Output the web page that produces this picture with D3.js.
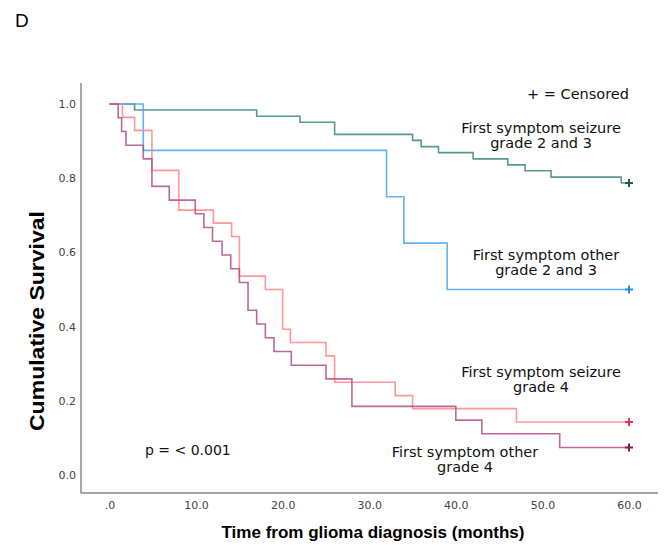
<!DOCTYPE html>
<html lang="en">
  <head>
    <meta charset="UTF-8" />
    <title>Kaplan-Meier: first symptom and grade</title>
    <script src="https://d3js.org/d3.v7.min.js"></script>
    <style>
      body { margin: 0; background: #fff; }
      text { font-family: "DejaVu Sans", sans-serif; }
    </style>
  </head>
  <body>
    <svg width="666" height="545"></svg>
    <script>
      // Step times (months) and cumulative survival
      const seizureLowTimes = [0, 2.9, 17, 22, 26, 35, 36, 38, 42, 46, 48, 51, 59.1, 60];
      const seizureLowSurv = [1, 0.984, 0.967, 0.951, 0.918, 0.902, 0.885, 0.869, 0.852, 0.836, 0.82, 0.803, 0.787, 0.787];

      const otherLowTimes = [0, 3.9, 32, 34, 39, 60];
      const otherLowSurv = [1, 0.875, 0.75, 0.625, 0.5, 0.5];

      const seizureHighTimes = [0, 1.5, 2.9, 4.9, 8, 12, 14.1, 15, 18, 20, 20.9, 25, 26, 33, 35, 47, 60];
      const seizureHighSurv = [1, 0.964, 0.929, 0.821, 0.714, 0.679, 0.643, 0.536, 0.5, 0.393, 0.357, 0.321, 0.25, 0.214, 0.179, 0.143, 0.143];

      const otherHighTimes = [0, 1, 1.4, 1.9, 3.9, 4.9, 6.9, 9.9, 10.9, 11.9, 13, 14, 15, 16, 17, 18, 19, 21, 25, 28, 40, 43, 52, 60];
      const otherHighSurv = [1, 0.963, 0.926, 0.889, 0.852, 0.778, 0.741, 0.704, 0.667, 0.63, 0.593, 0.556, 0.519, 0.444, 0.407, 0.37, 0.333, 0.296, 0.259, 0.185, 0.148, 0.111, 0.074, 0.074];

      const xTicks = [0, 10, 20, 30, 40, 50, 60];
      const yTicks = [0, 0.2, 0.4, 0.6, 0.8, 1.0];

      const series = [
        { times: seizureLowTimes, surv: seizureLowSurv, line: "#3b877d", mark: "#1d5a50" },
        { times: otherLowTimes, surv: otherLowSurv, line: "#45a6ee", mark: "#2a8fe0" },
        { times: seizureHighTimes, surv: seizureHighSurv, line: "#ff8588", mark: "#f0304c" },
        { times: otherHighTimes, surv: otherHighSurv, line: "#b04f85", mark: "#861852" },
      ];

      const svg = d3.select("svg");

      const x = d3.scaleLinear().domain([0, 60]).range([109.5, 629]);
      const y = d3.scaleLinear().domain([0, 1]).range([475, 104]);

      // panel letter
      svg.append("text")
        .attr("x", 15).attr("y", 27)
        .style("font-family", "Liberation Sans, sans-serif")
        .style("font-size", "19px")
        .text("D");

      // axis frame (left and bottom only)
      svg.append("line")
        .attr("x1", 81).attr("x2", 81).attr("y1", 83).attr("y2", 493)
        .style("stroke", "#888").style("stroke-width", 1.5);
      svg.append("line")
        .attr("x1", 81).attr("x2", 658).attr("y1", 493).attr("y2", 493)
        .style("stroke", "#888").style("stroke-width", 1.5);

      // x axis labels
      const xAxis = svg.append("g")
        .attr("transform", "translate(0,493)")
        .call(d3.axisBottom(x).tickValues(xTicks).tickSize(0).tickPadding(8)
          .tickFormat((d) => (d === 0 ? ".0" : d3.format(".1f")(d))));
      xAxis.select(".domain").remove();
      xAxis.selectAll("text")
        .style("font-family", "DejaVu Sans, sans-serif")
        .style("font-size", "11px")
        .style("fill", "#444");

      // y axis labels
      const yAxis = svg.append("g")
        .attr("transform", "translate(81,0)")
        .call(d3.axisLeft(y).tickValues(yTicks).tickSize(0).tickPadding(5)
          .tickFormat(d3.format(".1f")));
      yAxis.select(".domain").remove();
      yAxis.selectAll("text")
        .style("font-family", "DejaVu Sans, sans-serif")
        .style("font-size", "11px")
        .style("fill", "#444");

      // axis titles
      svg.append("text")
        .attr("x", 373).attr("y", 538)
        .attr("text-anchor", "middle")
        .style("font-family", "Liberation Sans, sans-serif")
        .style("font-weight", "bold")
        .style("font-size", "17px")
        .text("Time from glioma diagnosis (months)");

      svg.append("text")
        .attr("transform", "translate(44,321) rotate(-90)")
        .attr("text-anchor", "middle")
        .attr("textLength", 220)
        .attr("lengthAdjust", "spacingAndGlyphs")
        .style("font-family", "Liberation Sans, sans-serif")
        .style("font-weight", "bold")
        .style("font-size", "21px")
        .text("Cumulative Survival");

      // survival step curves
      const stepLine = d3.line()
        .x((d) => x(d[0]))
        .y((d) => y(d[1]))
        .curve(d3.curveStepAfter);

      series.forEach((s) => {
        const pts = s.times.map((t, i) => [t, s.surv[i]]);
        svg.append("path")
          .datum(pts)
          .attr("d", stepLine)
          .style("fill", "none")
          .style("stroke", s.line)
          .style("stroke-width", 1.6)
          .style("stroke-opacity", 0.85);

        // censored mark at the end of follow-up
        const last = pts[pts.length - 1];
        const cx = x(last[0]);
        const cy = y(last[1]);
        svg.append("path")
          .attr("d", `M${cx - 4},${cy}H${cx + 4}M${cx},${cy - 4}V${cy + 4}`)
          .style("stroke", s.mark)
          .style("stroke-width", 2);
      });

      // annotations
      const notes = [
        { lines: ["First symptom seizure", "grade 2 and 3"], cx: 541, y0: 133 },
        { lines: ["First symptom other", "grade 2 and 3"], cx: 546, y0: 260 },
        { lines: ["First symptom seizure", "grade 4"], cx: 541, y0: 377 },
        { lines: ["First symptom other", "grade 4"], cx: 465, y0: 457 },
      ];
      notes.forEach((n) => {
        n.lines.forEach((l, i) => {
          svg.append("text")
            .attr("x", n.cx).attr("y", n.y0 + i * 15)
            .attr("text-anchor", "middle")
            .style("font-size", "14.5px")
            .style("fill", "#111")
            .text(l);
        });
      });

      svg.append("text")
        .attr("x", 629).attr("y", 99)
        .attr("text-anchor", "end")
        .style("font-size", "14.5px")
        .style("fill", "#111")
        .text("+ = Censored");

      svg.append("text")
        .attr("x", 145).attr("y", 455)
        .style("font-size", "14px")
        .style("fill", "#111")
        .text("p = < 0.001");
    </script>
  </body>
</html>
